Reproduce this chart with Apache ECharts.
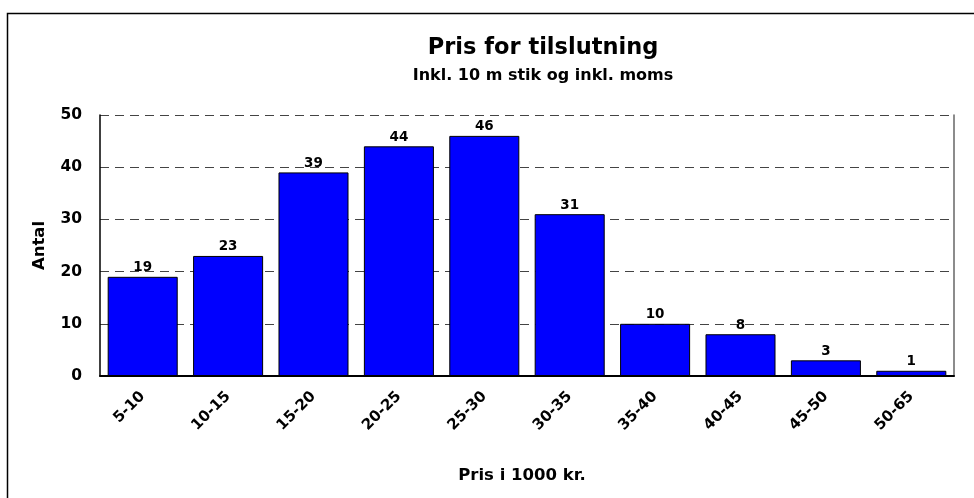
<!DOCTYPE html>
<html>
<head>
<meta charset="utf-8">
<script src="https://cdn.jsdelivr.net/npm/echarts@6/dist/echarts.min.js"></script>
<style>
  html, body { margin: 0; padding: 0; background: #fff; }
  #chart { width: 974px; height: 498px; }
</style>
</head>
<body>
<div id="chart"></div>
<script>
const categories = ['5-10', '10-15', '15-20', '20-25', '25-30', '30-35', '35-40', '40-45', '45-50', '50-65']
const counts = [19, 23, 39, 44, 46, 31, 10, 8, 3, 1]
const yTicks = { min: 0, max: 50, interval: 10 }

const font = 'DejaVu Sans, Verdana, sans-serif'

const chart = echarts.init(document.getElementById('chart'))
chart.setOption({
  animation: false,
  backgroundColor: '#fff',
  graphic: [
    {
      type: 'rect',
      shape: { x: 7.5, y: 13.5, width: 1000, height: 600 },
      style: { fill: 'none', stroke: '#000', lineWidth: 1.5 },
      silent: true
    }
  ],
  title: {
    text: 'Pris for tilslutning',
    subtext: 'Inkl. 10 m stik og inkl. moms',
    left: 538,
    textAlign: 'center',
    top: 32,
    itemGap: 8,
    textStyle: { fontFamily: font, fontSize: 22.5, fontWeight: 'bold', color: '#000' },
    subtextStyle: { fontFamily: font, fontSize: 16, fontWeight: 'bold', color: '#000' }
  },
  grid: { left: 100, right: 20, top: 115, bottom: 122 },
  xAxis: {
    type: 'category',
    data: categories,
    name: 'Pris i 1000 kr.',
    nameLocation: 'middle',
    nameGap: 91,
    nameTextStyle: {
      fontFamily: font,
      fontSize: 16.5,
      fontWeight: 'bold',
      color: '#000',
      padding: [0, 10, 0, 0]
    },
    axisLine: { lineStyle: { color: '#000', width: 2 } },
    axisTick: { alignWithLabel: true, length: 6, lineStyle: { color: '#555', width: 1.5 } },
    axisLabel: {
      rotate: 45,
      margin: 18,
      fontFamily: font,
      fontSize: 15,
      fontWeight: 'bold',
      color: '#000'
    }
  },
  yAxis: [
    {
      type: 'value',
      min: yTicks.min,
      max: yTicks.max,
      interval: yTicks.interval,
      name: 'Antal',
      nameLocation: 'middle',
      nameGap: 52,
      nameTextStyle: { fontFamily: font, fontSize: 16.5, fontWeight: 'bold', color: '#000' },
      axisLine: { show: true, lineStyle: { color: '#000', width: 1.5 } },
      axisTick: { show: false },
      axisLabel: { margin: 18, fontFamily: font, fontSize: 15.5, fontWeight: 'bold', color: '#000' },
      splitLine: { lineStyle: { color: '#444', type: [9, 6], width: 1 } }
    },
    {
      type: 'value',
      min: yTicks.min,
      max: yTicks.max,
      interval: yTicks.interval,
      position: 'right',
      axisLine: { show: true, lineStyle: { color: '#666', width: 1.5 } },
      axisTick: { show: false },
      axisLabel: { show: false },
      splitLine: { show: false }
    }
  ],
  series: [
    {
      type: 'bar',
      data: counts,
      barCategoryGap: '18%',
      itemStyle: { color: '#0000ff', borderColor: '#000', borderWidth: 1 },
      label: {
        show: true,
        position: 'top',
        distance: 2,
        fontFamily: font,
        fontSize: 13.5,
        fontWeight: 'bold',
        color: '#000'
      }
    }
  ]
})
</script>
</body>
</html>
